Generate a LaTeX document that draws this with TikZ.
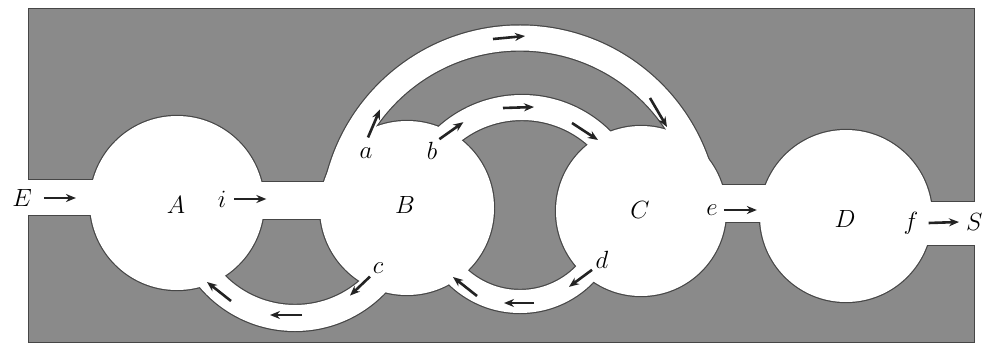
\documentclass[tikz,border=0pt]{standalone}
\usetikzlibrary{arrows.meta}
\definecolor{slab}{RGB}{138,138,138}
\definecolor{rim}{RGB}{70,70,70}
\definecolor{ink}{RGB}{35,35,35}

% white rooms and ducts; #1 = extra rim width, #2 = colour
\newcommand{\chambers}[2]{%
  \foreach \c/\r in {cA/87pt, cB/87pt, cC/85pt, cD/86pt}
    \fill[#2] (\c) circle (\r+#1);
  % straight ducts
  \draw[#2, line width=35pt+2*#1] (-20,197.5) -- (177,197.5);
  \draw[#2, line width=37pt+2*#1] (177,200.5) -- (407,200.5);
  \draw[#2, line width=37pt+2*#1] (641,203.5) -- (846,203.5);
  \draw[#2, line width=43pt+2*#1] (846,223.5) -- (1005,223.5);
  % curved ducts
  \draw[#2, line width=25pt+2*#1] (520,225) ++(177:187pt) arc[start angle=177, end angle=3, radius=187pt];
  \draw[#2, line width=25pt+2*#1] (522,220) ++(180:112.5pt) arc[start angle=180, end angle=0, radius=112.5pt];
  \draw[#2, line width=23pt+2*#1] (520,211) ++(180:90.5pt) arc[start angle=180, end angle=360, radius=90.5pt];
  \draw[#2, line width=26pt+2*#1] (295,206) ++(180:112pt) arc[start angle=180, end angle=360, radius=112pt];
}

\begin{document}
\begin{tikzpicture}[x=1pt, y=-1pt,
    flow/.style={ink, line width=2.6pt, -{Stealth[length=10pt,width=8pt]}},
    tag/.style={font=\fontsize{25}{28}\selectfont, inner sep=0pt},
  ]
  \useasboundingbox (0,0) rectangle (985,351);

  \coordinate (cA) at (177,203);
  \coordinate (cB) at (407,208);
  \coordinate (cC) at (641,211);
  \coordinate (cD) at (846,216);

  \draw[rim, line width=1pt, fill=slab] (28,8) rectangle (974,342);
  \begin{scope}
    \clip (28,8) rectangle (974,342);
    \chambers{1.2pt}{rim}
  \end{scope}
  \chambers{0pt}{white}

  % chamber names
  \node[tag] (A) at (176,205) {$A$};
  \node[tag] (B) at (405,205) {$B$};
  \node[tag] (C) at (640,210) {$C$};
  \node[tag] (D) at (845,219) {$D$};

  % inlet and outlet
  \node[tag] (E) at (22,198) {$E$};
  \node[tag, anchor=west] (S) at (966,222) {$S$};
  \draw[flow] ([xshift=12pt]E.east) -- ++(32,0);

  \node[tag] (i) at (222,199) {$i$};
  \draw[flow] ([xshift=8pt]i.east) -- ++(32,0);
  \node[tag] (e) at (712,210) {$e$};
  \draw[flow] ([xshift=6pt]e.east) -- ++(33,0);
  \node[tag] (f) at (911,223) {$f$};
  \draw[flow] ([xshift=10pt]f.east) -- ([xshift=-7pt]S.west);

  % openings of the loops
  \node[tag] (a) at (366,153) {$a$};
  \draw[flow] ([shift={(2,-10)}]a.north) -- ++(12,-28);
  \node[tag] (b) at (432,151) {$b$};
  \draw[flow] ([shift={(2,-3)}]b.north east) -- ++(24,-17);
  \node[tag] (c) at (378,268) {$c$};
  \draw[flow] ([shift={(-8,3)}]c.south) -- ++(-20,19);
  \node[tag] (d) at (602,260) {$d$};
  \draw[flow] ([shift={(-10,1)}]d.south) -- ++(-23,17);

  % markers along the loops
  \draw[flow] (493,39) -- (525,36);
  \draw[flow] (650,98) -- (667,127);
  \draw[flow] (503,108) -- (534,107);
  \draw[flow] (572,123) -- (598,140);
  \draw[flow] (534,303) -- (504,303);
  \draw[flow] (477,296) -- (453,277);
  \draw[flow] (302,315) -- (270,315);
  \draw[flow] (231,301) -- (207,282);
\end{tikzpicture}
\end{document}
